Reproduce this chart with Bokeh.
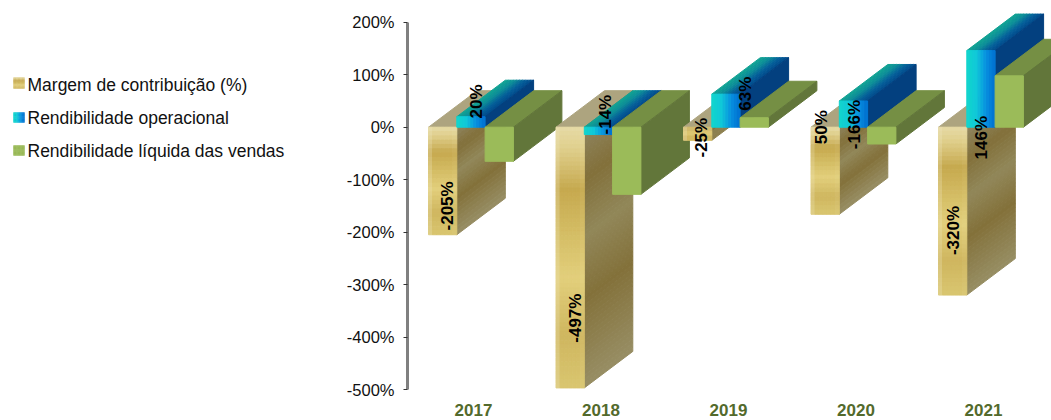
import numpy as np
from bokeh.embed import file_html
from bokeh.layouts import row
from bokeh.models import FixedTicker, PrintfTickFormatter, Range1d
from bokeh.plotting import figure
from bokeh.resources import INLINE
from bokeh.core.properties import value

years = ["2017", "2018", "2019", "2020", "2021"]
margem = [-205, -497, -25, -166, -320]
operacional = [20, -14, 63, 50, 146]
liquida = [-65, -128, 18, -32, 98]
y_ticks = [-500, -400, -300, -200, -100, 0, 100, 200]
legend_names = ["Margem de contribuição (%)", "Rendibilidade operacional", "Rendibilidade líquida das vendas"]

label_texts = ["-205%", "20%", "-497%", "-14%", "-25%", "63%", "50%", "-166%", "-320%", "146%"]
label_cat = [0, 0, 1, 1, 2, 2, 3, 3, 4, 4]
label_dx = [0.313, 0.541, 0.318, 0.553, 0.306, 0.651, 0.247, 0.506, 0.282, 0.502]
label_val = [-150, 49, -364, 24, -20, 64, 0, 5, -197, -20]

FONT = "Liberation Sans"
GROUP_OFFSET = 21 / 127.5
BAR_W = 28.3 / 127.5
DX = 48.5 / 127.5
DY = 36.5 / 0.5246


def hex2rgb(h):
    return np.array([int(h[i:i + 2], 16) for i in (1, 3, 5)], float)


def ramp(stops, t):
    pos = [s[0] for s in stops]
    cols = np.array([hex2rgb(s[1]) for s in stops])
    return np.array([np.interp(t, pos, cols[:, k]) for k in range(3)])


def css(c):
    return "#%02x%02x%02x" % tuple(int(round(min(255, max(0, v)))) for v in c)


GOLD_V = [(0, "#e6daa6"), (.08, "#e0d08e"), (.24, "#c6a94f"), (.42, "#d5be66"),
          (.58, "#e2cf7c"), (.8, "#cfb65f"), (1, "#d9c670")]
GOLD_SIDE = [(0, "#8f8560"), (.2, "#82703a"), (.42, "#918759"), (.66, "#83713a"), (1, "#978e64")]
BLUE_FRONT = [(0, "#12d6cc"), (.35, "#10c8d8"), (.7, "#0890e0"), (1, "#0070d0")]
BLUE_TOP = [(0, "#12a593"), (.35, "#0d8f98"), (.7, "#05609a"), (1, "#014a8c")]

xs, ys, fills = [], [], []


def poly(px, py, c):
    xs.append(list(px))
    ys.append(list(py))
    fills.append(c)


def grid(x0, w, y0, y1, dy_u, nu, nv, colour):
    for i in range(nu):
        u0, u1 = i / nu, (i + 1) / nu
        for j in range(nv):
            v0, v1 = j / nv, (j + 1) / nv
            a, b = y0 + (y1 - y0) * v0, y0 + (y1 - y0) * v1
            xa, xb = x0 + w * u0, x0 + w * u1
            poly([xa, xb, xb, xa],
                 [a + dy_u * u0, a + dy_u * u1, b + dy_u * u1, b + dy_u * u0],
                 colour((u0 + u1) / 2, (v0 + v1) / 2))


def gold_front(u, v):
    c = ramp(GOLD_V, v)
    edge = max(0.0, 1 - u / 0.14) * 0.55 + max(0.0, (u - 0.9) / 0.1) * 0.2
    return css(c * (1 - edge) + hex2rgb("#efe7c2") * edge)


def gold_side(u, v):
    return css(ramp(GOLD_SIDE, v))


def blue_front(u, v):
    return css(ramp(BLUE_FRONT, u))


def blue_top(u, v):
    return css(ramp(BLUE_TOP, u))


def bar(x, val, kind):
    y_top = max(0, val)
    y_bot = min(0, val)
    n = max(1, min(60, int(abs(val) / 8)))
    if kind == "gold":
        poly([x, x + BAR_W, x + BAR_W + DX, x + DX], [y_top, y_top, y_top + DY, y_top + DY], "#ada47f")
        grid(x + BAR_W, DX, y_top, y_bot, DY, 1, n, gold_side)
        grid(x, BAR_W, y_top, y_bot, 0, 7, n, gold_front)
    elif kind == "blue":
        for i in range(10):
            a, b = i / 10, (i + 1) / 10
            poly([x + BAR_W * a, x + BAR_W * b, x + BAR_W * b + DX, x + BAR_W * a + DX],
                 [y_top, y_top, y_top + DY, y_top + DY], blue_top((a + b) / 2, 0))
        poly([x + BAR_W, x + BAR_W + DX, x + BAR_W + DX, x + BAR_W],
             [y_bot, y_bot + DY, y_top + DY, y_top], "#03407f")
        grid(x, BAR_W, y_top, y_bot, 0, 10, 1, blue_front)
    else:
        poly([x, x + BAR_W, x + BAR_W + DX, x + DX], [y_top, y_top, y_top + DY, y_top + DY], "#758f44")
        poly([x + BAR_W, x + BAR_W + DX, x + BAR_W + DX, x + BAR_W],
             [y_bot, y_bot + DY, y_top + DY, y_top], "#62763a")
        poly([x, x + BAR_W, x + BAR_W, x], [y_bot, y_bot, y_top, y_top], "#9bbb59")


for i in range(len(years)):
    x0 = i + GROUP_OFFSET
    bar(x0, margem[i], "gold")
    bar(x0 + BAR_W, operacional[i], "blue")
    bar(x0 + 2 * BAR_W, liquida[i], "green")

p = figure(width=708, height=420, output_backend="svg", toolbar_location=None,
           x_range=Range1d(0, 644 / 127.5), y_range=Range1d(-500, 126.7 / 0.5246),
           min_border_left=64, min_border_right=0, min_border_top=0, min_border_bottom=31,
           outline_line_color=None, background_fill_color="white", border_fill_color="white")
p.grid.visible = False
p.patches(xs, ys, fill_color=fills, line_color=fills, line_width=1)

p.text([c + d for c, d in zip(label_cat, label_dx)], label_val, text=label_texts, angle=np.pi / 2,
       text_align="center", text_baseline="middle", text_font=value(FONT), text_font_style="bold",
       text_font_size="17px", text_color="#000000")

ax = p.yaxis[0]
ax.ticker = FixedTicker(ticks=y_ticks)
ax.formatter = PrintfTickFormatter(format="%d%%")
ax.bounds = (-500, 200)
ax.axis_line_color = "#808080"
ax.axis_line_width = 3
ax.major_tick_line_color = "#333333"
ax.major_tick_out = 4
ax.major_tick_in = 0
ax.minor_tick_line_color = None
ax.major_label_standoff = 9
ax.major_label_text_font = FONT
ax.major_label_text_font_size = "16.5px"
ax.major_label_text_color = "#111111"

bx = p.xaxis[0]
bx.ticker = FixedTicker(ticks=[i + 66 / 127.5 for i in range(len(years))])
bx.major_label_overrides = {i + 66 / 127.5: y for i, y in enumerate(years)}
bx.axis_line_color = None
bx.major_tick_line_color = None
bx.major_tick_out = 0
bx.major_tick_in = 0
bx.minor_tick_line_color = None
bx.major_label_standoff = 14
bx.major_label_text_font = FONT
bx.major_label_text_font_style = "bold"
bx.major_label_text_font_size = "17px"
bx.major_label_text_color = "#536a2c"

lg = figure(width=343, height=420, output_backend="svg", toolbar_location=None,
            x_range=Range1d(0, 343), y_range=Range1d(389, 0),
            min_border_left=0, min_border_right=0, min_border_top=0, min_border_bottom=31,
            outline_line_color=None, x_axis_location=None, y_axis_location=None)
lg.grid.visible = False
lx, ly, lc = [], [], []


def swatch(top, bot, colour, nu=8, nv=8):
    for i in range(nu):
        for j in range(nv):
            a, b = 13 + 11 * i / nu, 13 + 11 * (i + 1) / nu
            c, d = top + (bot - top) * j / nv, top + (bot - top) * (j + 1) / nv
            lx.append([a, b, b, a])
            ly.append([c, c, d, d])
            lc.append(colour((i + .5) / nu, (j + .5) / nv))


swatch(77, 88, lambda u, v: css(ramp(GOLD_V, v * 0.8)))
swatch(112, 122, blue_front)
swatch(145, 155, lambda u, v: "#9bbb59")
lg.patches(lx, ly, fill_color=lc, line_color=lc, line_width=0.4)
lg.text([27, 27, 27], [84.5, 117, 150], text=legend_names, text_align="left", text_baseline="middle",
        text_font=value(FONT), text_font_size="17.5px", text_color="#111111")

page = row(lg, p, spacing=0)
open("out.html", "w").write(file_html(page, INLINE))
